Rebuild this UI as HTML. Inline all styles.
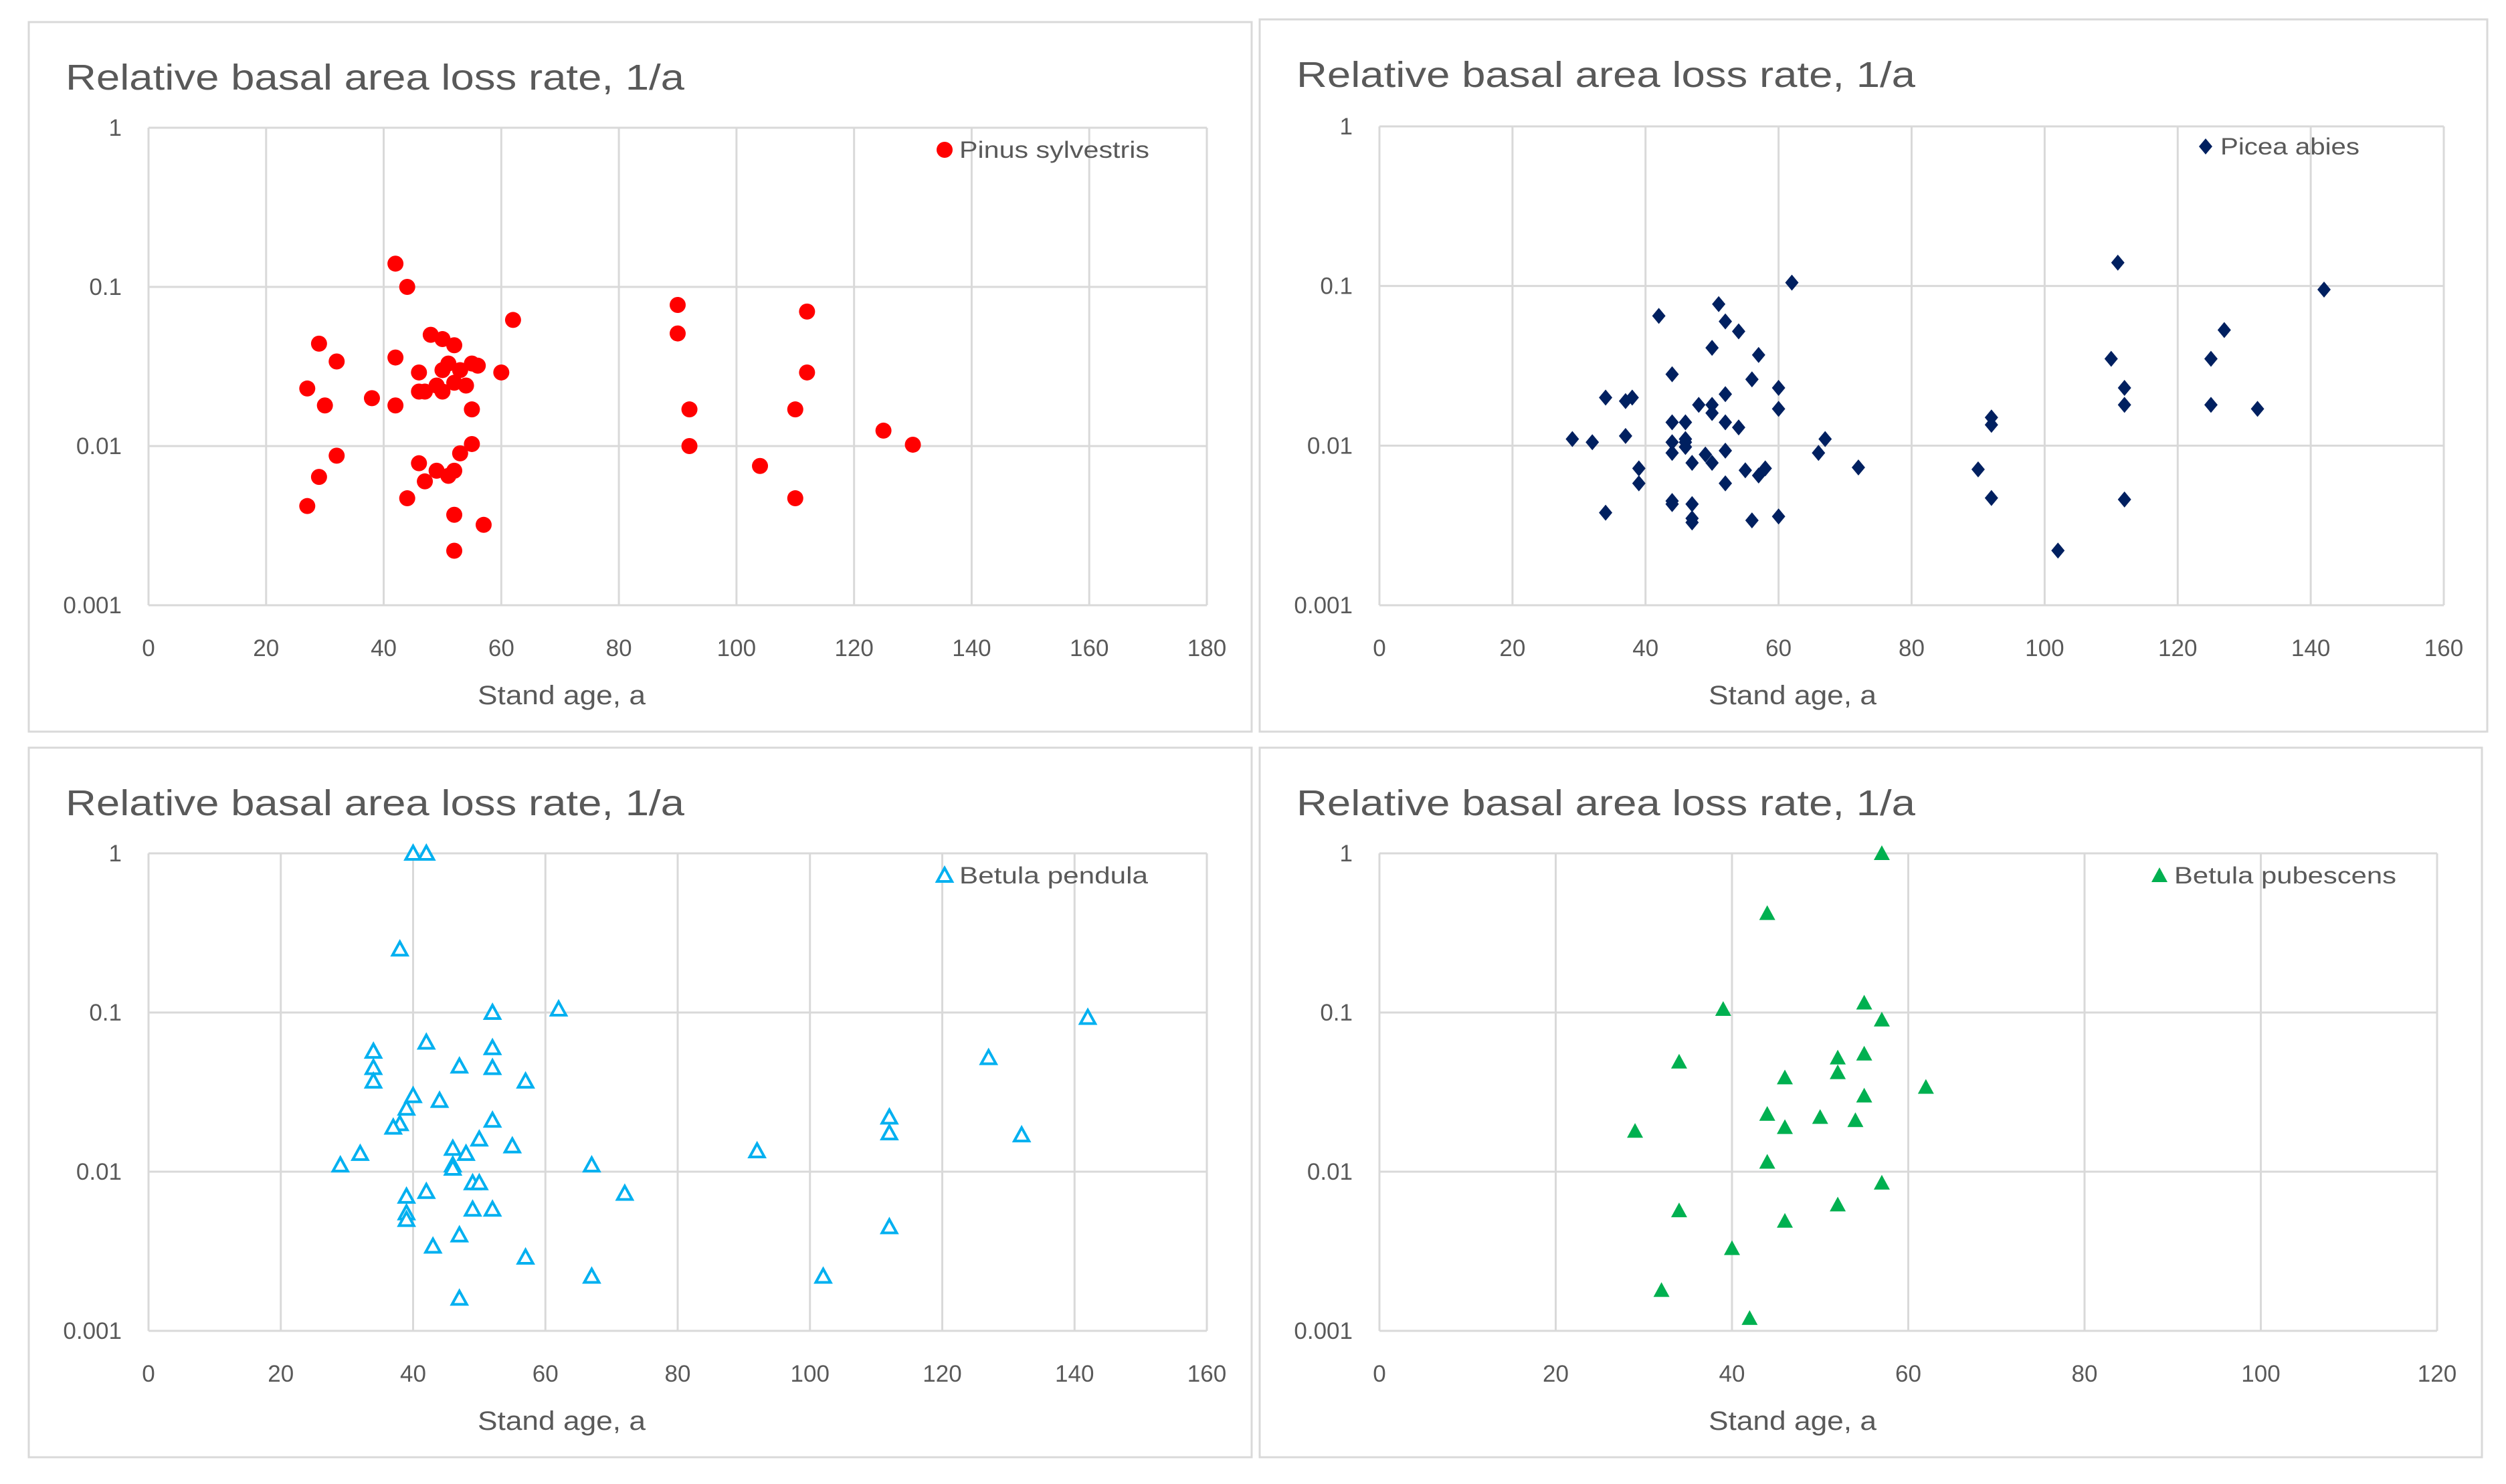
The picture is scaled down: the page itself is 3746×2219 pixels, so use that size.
<!DOCTYPE html>
<html><head><meta charset="utf-8"><style>
html,body{margin:0;padding:0;background:#fff;}
svg{display:block;font-family:"Liberation Sans",sans-serif;}
</style></head><body>
<svg id="c" width="3746" height="2219" viewBox="0 0 3746 2219" xmlns="http://www.w3.org/2000/svg"></svg>
<script>
const pinusAge=[42,44,29,32,27,30,38,42,42,46,46,47,48,50,50,51,52,52,53,54,55,56,55,60,62,50,49,32,29,27,44,46,47,49,51,52,53,55,52,57,52,90,90,92,92,104,110,110,112,112,125,130];
const pinusRate=[0.14,0.1,0.044,0.034,0.023,0.018,0.02,0.036,0.018,0.029,0.022,0.022,0.05,0.047,0.022,0.033,0.043,0.025,0.03,0.024,0.033,0.032,0.017,0.029,0.062,0.03,0.024,0.0087,0.0064,0.0042,0.0047,0.0078,0.006,0.007,0.0065,0.007,0.009,0.0103,0.0037,0.0032,0.0022,0.077,0.051,0.017,0.01,0.0075,0.0047,0.017,0.07,0.029,0.0125,0.0102];
const piceaAge=[29,32,34,34,37,38,37,39,39,42,44,44,44,44,44,44,46,46,46,46,47,47,47,47,48,49,50,50,50,50,51,52,52,52,52,52,54,54,55,56,56,57,57,58,60,60,60,62,66,67,72,90,92,92,92,102,110,111,112,112,112,125,125,127,132,142];
const piceaRate=[0.011,0.0105,0.02,0.0038,0.019,0.02,0.0115,0.0072,0.0058,0.065,0.028,0.014,0.0105,0.009,0.0045,0.0043,0.014,0.011,0.0105,0.0098,0.0078,0.0043,0.0035,0.0033,0.018,0.0088,0.0078,0.041,0.018,0.016,0.077,0.06,0.021,0.014,0.0093,0.0058,0.052,0.013,0.007,0.026,0.0034,0.037,0.0065,0.0072,0.023,0.017,0.0036,0.105,0.009,0.011,0.0073,0.0071,0.015,0.0135,0.0047,0.0022,0.035,0.14,0.023,0.018,0.0046,0.035,0.018,0.053,0.017,0.095];
const pendulaAge=[40,42,38,52,62,42,34,52,34,47,52,34,57,40,44,39,38,37,52,50,32,29,46,48,55,46,46,49,50,67,39,42,72,39,39,49,52,47,43,57,67,47,92,102,112,112,112,127,132,142];
const pendulaRate=[1.0,1.0,0.25,0.1,0.105,0.065,0.057,0.06,0.045,0.046,0.045,0.037,0.037,0.03,0.028,0.025,0.02,0.019,0.021,0.016,0.013,0.011,0.014,0.013,0.0145,0.011,0.0105,0.0085,0.0085,0.011,0.007,0.0075,0.0073,0.0055,0.005,0.0058,0.0058,0.004,0.0034,0.0029,0.0022,0.0016,0.0135,0.0022,0.022,0.0175,0.0045,0.052,0.017,0.093];
const pubescensAge=[57,44,39,55,57,34,55,52,46,52,62,55,44,50,54,46,29,44,57,52,34,46,40,32,42];
const pubescensRate=[1.0,0.42,0.105,0.115,0.09,0.049,0.055,0.052,0.039,0.042,0.034,0.03,0.023,0.022,0.021,0.019,0.018,0.0115,0.0085,0.0062,0.0057,0.0049,0.0033,0.0018,0.0012];
const yTicks=[1,0.1,0.01,0.001];
const yTickLabels=["1","0.1","0.01","0.001"];
const xTicks180=[0,20,40,60,80,100,120,140,160,180];
const xTicks160=[0,20,40,60,80,100,120,140,160];
const xTicks120=[0,20,40,60,80,100,120];

const svg=document.getElementById('c');
const NS='http://www.w3.org/2000/svg';
function mk(tag,attrs,parent){const e=document.createElementNS(NS,tag);for(const k in attrs)e.setAttribute(k,attrs[k]);(parent||svg).appendChild(e);return e;}

function marker(g,type,color,cx,cy){
  let e;
  if(type==='circle'){e=mk('circle',{cx:cx,cy:cy,r:12,fill:color},g);}
  else if(type==='diamond'){e=mk('polygon',{points:`${cx},${cy-12} ${cx+10},${cy} ${cx},${cy+12} ${cx-10},${cy}`,fill:color},g);}
  else if(type==='tri-open'){e=mk('polygon',{points:`${cx},${cy-11} ${cx+11},${cy+9} ${cx-11},${cy+9}`,fill:'#fff',stroke:color,'stroke-width':4},g);}
  else {e=mk('polygon',{points:`${cx},${cy-12} ${cx+12},${cy+10} ${cx-12},${cy+10}`,fill:color},g);}
  return e;
}

function panel(p){
  const g=mk('g',{});
  
  
  const box=mk('rect',{x:p.bx,y:p.by,width:p.bw,height:p.bh,fill:'#fff',stroke:'#d9d9d9','stroke-width':3},g);
  
  
  const t=mk('text',{x:p.bx+55,y:p.by+101,'font-size':54,fill:'#595959',textLength:925,lengthAdjust:'spacingAndGlyphs'},g);
  t.textContent='Relative basal area loss rate, 1/a';
  
  
  const xs=v=>p.L+(v-0)/(p.xmax)*(p.R-p.L);
  const ys=v=>p.B-(Math.log10(v)+3)/3*(p.B-p.T);
  p.xt.forEach(v=>{
    const l=mk('line',{x1:xs(v),x2:xs(v),y1:p.T,y2:p.B,stroke:'#d9d9d9','stroke-width':3},g);
    
    
    const tx=mk('text',{x:xs(v),y:p.B+76,'font-size':35,fill:'#595959','text-anchor':'middle'},g);
    tx.textContent=String(v);
    
    
  });
  yTicks.forEach((v,i)=>{
    const l=mk('line',{x1:p.L,x2:p.R,y1:ys(v),y2:ys(v),stroke:'#d9d9d9','stroke-width':3},g);
    
    
    const ty=mk('text',{x:p.L-40,y:ys(v)+12,'font-size':35,fill:'#595959','text-anchor':'end'},g);
    ty.textContent=yTickLabels[i];
    
    
  });
  const ax=mk('text',{x:p.L+617-125,y:p.B+148,'font-size':40,fill:'#595959',textLength:251,lengthAdjust:'spacingAndGlyphs'},g);
  ax.textContent='Stand age, a';
  
  
  p.xs.forEach((a,i)=>{
    const m=marker(g,p.type,p.color,xs(a),ys(p.ys[i]));
    
    
  });
  const lm=marker(g,p.type,p.color,p.lx,p.ly);
  
  
  const lt=mk('text',{x:p.lx+22,y:p.ly+12,'font-size':35,fill:'#595959',textLength:p.lw,lengthAdjust:'spacingAndGlyphs'},g);
  lt.textContent=p.label;
  
  
}

panel({name:'pinus-panel',bx:43,by:33,bw:1828,bh:1061,L:222,R:1804,T:191,B:905,xmax:180,xt:xTicks180,xs:pinusAge,ys:pinusRate,type:'circle',color:'#ff0000',lx:1412,ly:224,label:'Pinus sylvestris',lw:284});
panel({name:'picea-panel',bx:1883,by:29,bw:1835,bh:1065,L:2062,R:3653,T:189,B:905,xmax:160,xt:xTicks160,xs:piceaAge,ys:piceaRate,type:'diamond',color:'#002060',lx:3297,ly:219,label:'Picea abies',lw:208});
panel({name:'betula-pendula-panel',bx:43,by:1118,bw:1828,bh:1061,L:222,R:1804,T:1276,B:1990,xmax:160,xt:xTicks160,xs:pendulaAge,ys:pendulaRate,type:'tri-open',color:'#00b0f0',lx:1412,ly:1309,label:'Betula pendula',lw:282});
panel({name:'betula-pubescens-panel',bx:1883,by:1118,bw:1827,bh:1061,L:2062,R:3643,T:1276,B:1990,xmax:120,xt:xTicks120,xs:pubescensAge,ys:pubescensRate,type:'tri',color:'#00b050',lx:3228,ly:1309,label:'Betula pubescens',lw:332});
</script>
</body></html>
